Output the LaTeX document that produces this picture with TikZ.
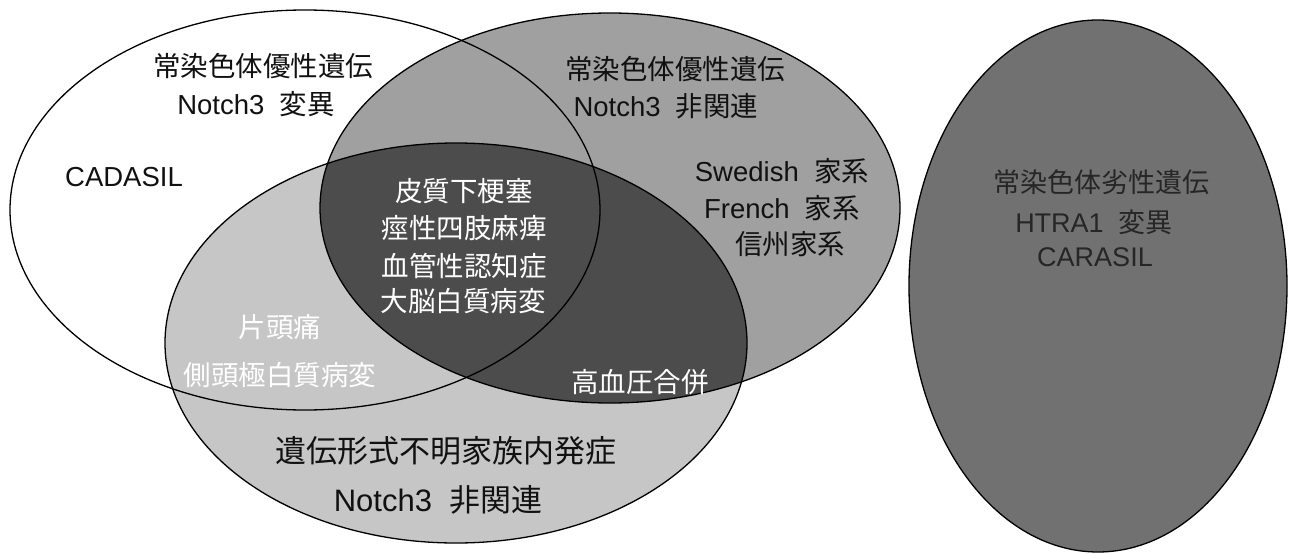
\documentclass[tikz,border=0pt]{standalone}
\usepackage{fontspec}
\setmainfont{Liberation Sans}
\newfontfamily\jp{Noto Sans CJK JP}
\definecolor{midgray}{HTML}{A0A0A0}
\definecolor{lightgray}{HTML}{C6C6C6}
\definecolor{darkgray}{HTML}{4C4C4C}
\definecolor{rightgray}{HTML}{717171}
\definecolor{ink}{HTML}{111111}
\begin{document}
\begin{tikzpicture}[x=1pt,y=-1pt,
  outline/.style={draw=black,line width=1.3pt},
  lbl/.style={font=\fontsize{27.5}{32}\selectfont,inner sep=0pt,align=center,text=ink},
  wlbl/.style={lbl,text=white},
  big/.style={font=\fontsize{31}{36}\selectfont}]
\useasboundingbox (0,0) rectangle (1294,554);
\fill[white] (0,0) rectangle (1294,554);
% Venn fills
\fill[white] (305,210) ellipse [x radius=295,y radius=200];
\fill[midgray] (610,208) ellipse [x radius=290,y radius=195];
\fill[lightgray] (456,343) ellipse [x radius=291,y radius=200];
\begin{scope}
  \clip (610,208) ellipse [x radius=290,y radius=195];
  \fill[darkgray] (456,343) ellipse [x radius=291,y radius=200];
\end{scope}
\draw[outline] (305,210) ellipse [x radius=295,y radius=200];
\draw[outline] (610,208) ellipse [x radius=290,y radius=195];
\draw[outline] (456,343) ellipse [x radius=291,y radius=200];
% right ellipse
\draw[outline,fill=rightgray] (1098,286) ellipse [x radius=189,y radius=266];
% labels
\node[lbl] (a1) at (263,66) {\jp 常染色体優性遺伝};
\node[lbl] (a2) at (256,104) {Notch3\ \ {\jp 変異}};
\node[lbl] (a3) at (124,177) {CADASIL};
\node[lbl] (b1) at (675,69) {\jp 常染色体優性遺伝};
\node[lbl] (b2) at (666,106) {Notch3\ \ {\jp 非関連}};
\node[lbl] (b3) at (782,171) {Swedish\ \ {\jp 家系}};
\node[lbl] (b4) at (782,208) {French\ \ {\jp 家系}};
\node[lbl] (b5) at (790,244) {\jp 信州家系};
\node[wlbl] (c1) at (464,191) {\jp 皮質下梗塞};
\node[wlbl] (c2) at (464,228) {\jp 痙性四肢麻痺};
\node[wlbl] (c3) at (464,266) {\jp 血管性認知症};
\node[wlbl] (c4) at (463,301) {\jp 大脳白質病変};
\node[wlbl] (d1) at (280,327) {\jp 片頭痛};
\node[wlbl] (d2) at (280,375) {\jp 側頭極白質病変};
\node[wlbl] (e1) at (640,382) {\jp 高血圧合併};
\node[lbl,big] (f1) at (446,451) {\jp 遺伝形式不明家族内発症};
\node[lbl,big] (f2) at (438,500) {Notch3\ \ {\jp 非関連}};
\node[lbl,font=\fontsize{27}{32}\selectfont,text=black!85] (g1) at (1101,182) {\jp 常染色体劣性遺伝};
\node[lbl,font=\fontsize{27}{32}\selectfont,text=black!85] (g2) at (1094,222) {HTRA1\ \ {\jp 変異}};
\node[lbl,font=\fontsize{27}{32}\selectfont,text=black!85] (g3) at (1095,257) {CARASIL};
\end{tikzpicture}
\end{document}
